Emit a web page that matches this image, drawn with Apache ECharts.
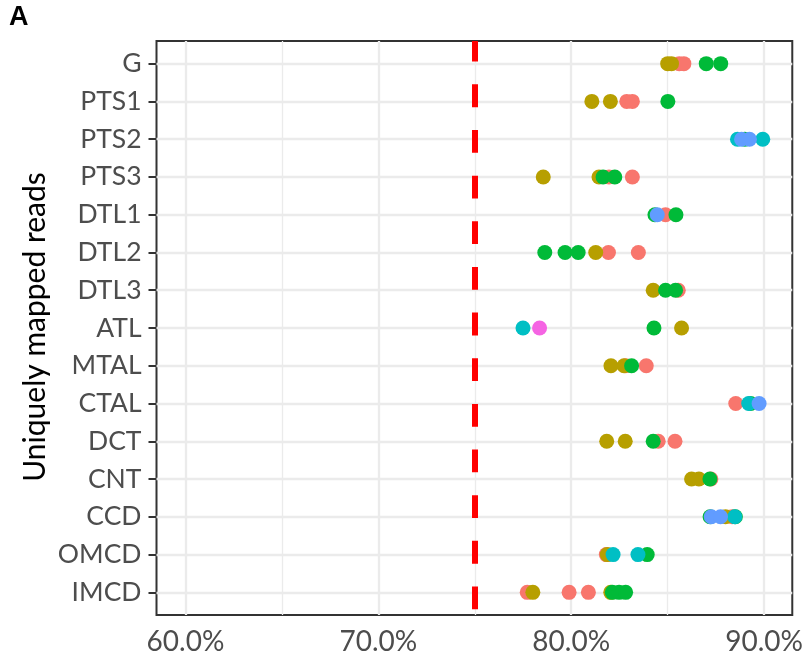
<!DOCTYPE html>
<html>
<head>
<meta charset="utf-8">
<title>Uniquely mapped reads</title>
<script src="https://cdn.jsdelivr.net/npm/echarts@6/dist/echarts.min.js"></script>
<style>
  html, body { margin: 0; padding: 0; background: #ffffff; }
  #chart { width: 806px; height: 657px; }
</style>
</head>
<body>
<div id="chart"></div>
<script>
// Nephron segments, top to bottom
const categories = ['G', 'PTS1', 'PTS2', 'PTS3', 'DTL1', 'DTL2', 'DTL3', 'ATL',
  'MTAL', 'CTAL', 'DCT', 'CNT', 'CCD', 'OMCD', 'IMCD'];

// Percentage of uniquely mapped reads per sample, grouped by batch: [segment, percent]
const groupA = [['G', 85.6], ['G', 85.84], ['PTS1', 82.88], ['PTS1', 83.17], ['PTS3', 81.96],
  ['PTS3', 83.17], ['DTL1', 84.89], ['DTL2', 81.93], ['DTL2', 83.48], ['DTL3', 85.55],
  ['MTAL', 82.82], ['MTAL', 83.89], ['CTAL', 88.53], ['DCT', 84.51], ['DCT', 85.38],
  ['CNT', 87.24], ['CCD', 88.34], ['OMCD', 81.82], ['IMCD', 77.72], ['IMCD', 79.89], ['IMCD', 80.89]];
const groupB = [['G', 85.0], ['G', 85.2], ['PTS1', 81.07], ['PTS1', 82.03], ['PTS3', 78.55],
  ['PTS3', 81.44], ['DTL2', 81.27], ['DTL3', 84.25], ['ATL', 85.72], ['MTAL', 82.06],
  ['MTAL', 82.74], ['DCT', 81.84], ['DCT', 82.8], ['CNT', 86.24], ['CNT', 86.62],
  ['CCD', 88.0], ['OMCD', 81.87], ['IMCD', 78.01], ['IMCD', 82.05]];
const groupC = [['G', 87.0], ['G', 87.75], ['PTS1', 85.01], ['PTS2', 89.0], ['PTS3', 81.65],
  ['PTS3', 82.26], ['DTL1', 84.34], ['DTL1', 85.43], ['DTL2', 78.63], ['DTL2', 79.68],
  ['DTL2', 80.36], ['DTL3', 84.89], ['DTL3', 85.41], ['ATL', 84.29], ['MTAL', 83.13],
  ['CTAL', 89.3], ['DCT', 84.25], ['CNT', 87.19], ['CCD', 87.2], ['CCD', 88.51],
  ['OMCD', 83.94], ['IMCD', 82.13], ['IMCD', 82.48], ['IMCD', 82.82]];
const groupD = [['PTS2', 88.62], ['PTS2', 89.93], ['ATL', 77.5], ['CTAL', 89.2], ['CCD', 88.48],
  ['OMCD', 82.17], ['OMCD', 83.46]];
const groupE = [['PTS2', 88.83], ['PTS2', 89.24], ['DTL1', 84.46], ['CTAL', 89.74],
  ['CCD', 87.26], ['CCD', 87.74]];
const groupF = [['ATL', 78.36]];

// Axis ticks
const xTicks = [60, 70, 80, 90];
const xMinorLines = [65, 75, 85];
const threshold = 75;

const groups = [groupA, groupB, groupC, groupD, groupE, groupF];
const palette = ['#F8766D', '#B79F00', '#00BA38', '#00BFC4', '#619CFF', '#F564E3'];
const rowIndex = categories.map((_, i) => i);

const FONT = 'Lato';

const chart = echarts.init(document.getElementById('chart'), null, { renderer: 'canvas' });

const pointSeries = groups.map((g, k) => ({
  type: 'scatter',
  name: 'group' + (k + 1),
  data: g.map(([cat, v]) => [v, categories.indexOf(cat)]),
  symbol: 'circle',
  symbolSize: 15,
  itemStyle: { color: palette[k], opacity: 1 },
  z: 10,
  silent: true
}));

const gridSeries = {
  type: 'scatter',
  data: [],
  silent: true,
  z: 1,
  markLine: {
    silent: true,
    symbol: 'none',
    animation: false,
    label: { show: false },
    data: [
      ...rowIndex.map(i => ({ yAxis: i, lineStyle: { color: '#ebebeb', width: 2.3, type: 'solid' } })),
      ...xTicks.map(v => ({ xAxis: v, lineStyle: { color: '#ebebeb', width: 2.3, type: 'solid' } })),
      ...xMinorLines.map(v => ({ xAxis: v, lineStyle: { color: '#ebebeb', width: 1.3, type: 'solid' } }))
    ]
  }
};

const thresholdSeries = {
  type: 'scatter',
  data: [],
  silent: true,
  z: 5,
  markLine: {
    silent: true,
    symbol: 'none',
    animation: false,
    label: { show: false },
    data: [{ xAxis: threshold }],
    lineStyle: { color: '#FF0000', width: 6, type: [22.8, 22.85], dashOffset: 2.3, opacity: 1 }
  }
};

chart.setOption({
  animation: false,
  backgroundColor: '#ffffff',
  grid: {
    left: 156.5, right: 12, top: 41, bottom: 42,
    show: true, borderColor: '#333333', borderWidth: 2, backgroundColor: 'transparent',
    containLabel: false
  },
  xAxis: {
    type: 'value',
    min: 58.5,
    max: 91.46,
    axisLine: { show: false },
    splitLine: { show: false },
    axisTick: { show: true, customValues: xTicks, length: 8, lineStyle: { color: '#333333', width: 2 } },
    axisLabel: {
      customValues: xTicks,
      formatter: v => v.toFixed(1) + '%',
      color: '#4d4d4d', fontFamily: FONT, fontSize: 28, margin: 13
    }
  },
  yAxis: {
    type: 'value',
    inverse: true,
    min: -0.6,
    max: 14.6,
    axisLine: { show: false },
    splitLine: { show: false },
    axisTick: { show: true, customValues: rowIndex, length: 8, lineStyle: { color: '#333333', width: 2 } },
    axisLabel: {
      customValues: rowIndex,
      formatter: v => categories[Math.round(v)],
      color: '#4d4d4d', fontFamily: FONT, fontSize: 26.5, margin: 15
    }
  },
  graphic: [
    {
      type: 'text', x: 35, y: 327, rotation: Math.PI / 2,
      style: { text: 'Uniquely mapped reads', fill: '#000000', font: '30px ' + FONT,
        align: 'center', verticalAlign: 'middle' }
    },
    {
      type: 'text', x: 9, y: 18,
      style: { text: 'A', fill: '#000000', fontSize: 27, fontWeight: 'bold',
        fontFamily: 'Liberation Sans', align: 'left', verticalAlign: 'middle' }
    }
  ],
  series: [gridSeries, thresholdSeries, ...pointSeries]
});
</script>
</body>
</html>
